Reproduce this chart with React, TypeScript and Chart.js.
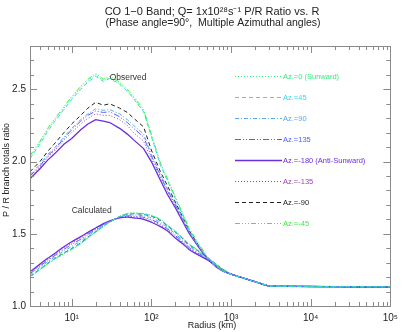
import React, { useEffect, useRef } from 'react';
import { Chart, registerables } from 'chart.js';
Chart.register(...registerables);

// Radius grid (km) up to 1000 km, then the common tail
const radii = [3, 4, 5, 6, 8, 10, 13, 16, 20, 25, 30, 40, 50, 60, 80, 100, 130, 160, 200, 250, 300, 400, 500, 650, 800, 1000];
const tailRadii = [1500, 2000, 3000, 5000, 10000, 20000, 50000, 100000];
const tailRatio = [1.19, 1.168, 1.138, 1.136, 1.135, 1.134, 1.133, 1.133];

const azimuthLabels = ['Az.=0 (Sunward)', 'Az.=45', 'Az.=90', 'Az.=135', 'Az.=-180 (Anti-Sunward)', 'Az.=-135', 'Az.=-90', 'Az.=-45'];

// Observed P/R ratio
const obsAz0 = [2.03, 2.13, 2.22, 2.28, 2.37, 2.44, 2.51, 2.56, 2.60, 2.56, 2.58, 2.54, 2.49, 2.44, 2.35, 2.18, 1.98, 1.87, 1.75, 1.63, 1.53, 1.42, 1.34, 1.28, 1.24, 1.22];
const obsAz45 = [2.02, 2.12, 2.21, 2.27, 2.36, 2.43, 2.50, 2.55, 2.59, 2.555, 2.575, 2.535, 2.485, 2.435, 2.345, 2.175, 1.975, 1.865, 1.745, 1.625, 1.525, 1.415, 1.335, 1.28, 1.24, 1.22];
const obsAz90 = [1.91, 1.98, 2.05, 2.09, 2.17, 2.23, 2.29, 2.33, 2.365, 2.355, 2.36, 2.33, 2.29, 2.25, 2.19, 2.05, 1.91, 1.81, 1.71, 1.60, 1.51, 1.405, 1.33, 1.27, 1.24, 1.22];
const obsAz135 = [1.90, 1.97, 2.04, 2.08, 2.16, 2.22, 2.28, 2.32, 2.35, 2.34, 2.345, 2.31, 2.27, 2.23, 2.17, 2.04, 1.90, 1.80, 1.70, 1.595, 1.505, 1.40, 1.33, 1.27, 1.24, 1.22];
const obsAzM180 = [1.88, 1.95, 2.01, 2.05, 2.12, 2.16, 2.22, 2.26, 2.29, 2.28, 2.27, 2.23, 2.19, 2.15, 2.09, 2.00, 1.87, 1.77, 1.68, 1.58, 1.50, 1.40, 1.33, 1.27, 1.24, 1.22];
const obsAzM135 = [1.89, 1.96, 2.03, 2.07, 2.15, 2.20, 2.26, 2.30, 2.33, 2.32, 2.32, 2.29, 2.25, 2.20, 2.14, 2.02, 1.89, 1.79, 1.69, 1.59, 1.50, 1.40, 1.33, 1.27, 1.24, 1.22];
const obsAzM90 = [1.93, 2.00, 2.07, 2.12, 2.20, 2.26, 2.32, 2.37, 2.41, 2.39, 2.40, 2.37, 2.34, 2.30, 2.24, 2.08, 1.93, 1.83, 1.72, 1.61, 1.52, 1.41, 1.33, 1.27, 1.24, 1.22];
const obsAzM45 = [2.04, 2.14, 2.23, 2.29, 2.38, 2.45, 2.52, 2.57, 2.61, 2.57, 2.59, 2.55, 2.50, 2.45, 2.36, 2.19, 1.99, 1.88, 1.755, 1.635, 1.535, 1.425, 1.345, 1.285, 1.245, 1.22];

// Calculated P/R ratio
const calcAz0 = [1.20, 1.25, 1.29, 1.32, 1.36, 1.39, 1.43, 1.47, 1.51, 1.55, 1.58, 1.62, 1.64, 1.645, 1.64, 1.63, 1.60, 1.56, 1.52, 1.47, 1.43, 1.38, 1.34, 1.29, 1.25, 1.22];
const calcAz45 = [1.204, 1.254, 1.294, 1.324, 1.365, 1.396, 1.435, 1.474, 1.513, 1.552, 1.581, 1.619, 1.637, 1.641, 1.636, 1.625, 1.595, 1.556, 1.515, 1.466, 1.426, 1.377, 1.338, 1.289, 1.25, 1.22];
const calcAz90 = [1.215, 1.266, 1.306, 1.336, 1.38, 1.412, 1.45, 1.486, 1.522, 1.558, 1.584, 1.616, 1.63, 1.631, 1.624, 1.61, 1.58, 1.544, 1.50, 1.454, 1.414, 1.368, 1.332, 1.286, 1.25, 1.22];
const calcAz135 = [1.224, 1.276, 1.316, 1.346, 1.392, 1.426, 1.462, 1.496, 1.53, 1.563, 1.586, 1.614, 1.624, 1.622, 1.614, 1.598, 1.568, 1.534, 1.488, 1.444, 1.404, 1.36, 1.327, 1.283, 1.25, 1.22];
const calcAzM180 = [1.237, 1.29, 1.33, 1.36, 1.41, 1.445, 1.48, 1.51, 1.54, 1.57, 1.59, 1.61, 1.615, 1.61, 1.60, 1.58, 1.55, 1.52, 1.47, 1.43, 1.39, 1.35, 1.32, 1.28, 1.25, 1.22];
const calcAzM135 = [1.23, 1.282, 1.322, 1.352, 1.40, 1.434, 1.47, 1.502, 1.534, 1.566, 1.588, 1.612, 1.62, 1.617, 1.608, 1.59, 1.56, 1.528, 1.48, 1.438, 1.398, 1.356, 1.324, 1.282, 1.25, 1.22];
const calcAzM90 = [1.205, 1.255, 1.295, 1.325, 1.367, 1.398, 1.437, 1.476, 1.514, 1.553, 1.581, 1.618, 1.636, 1.64, 1.634, 1.622, 1.592, 1.554, 1.512, 1.464, 1.424, 1.376, 1.337, 1.289, 1.25, 1.22];
const calcAzM45 = [1.202, 1.252, 1.292, 1.322, 1.362, 1.393, 1.433, 1.472, 1.511, 1.551, 1.58, 1.62, 1.639, 1.643, 1.638, 1.627, 1.597, 1.558, 1.517, 1.468, 1.428, 1.378, 1.339, 1.29, 1.25, 1.22];

const observed = [obsAz0, obsAz45, obsAz90, obsAz135, obsAzM180, obsAzM135, obsAzM90, obsAzM45];
const calculated = [calcAz0, calcAz45, calcAz90, calcAz135, calcAzM180, calcAzM135, calcAzM90, calcAzM45];

const yTickValues = [1.0, 1.5, 2.0, 2.5];

// styles
const colors = ['#2ef07c', '#3cd6f0', '#5aa8f2', '#4f60ff', '#6a2ee0', '#9a44b4', '#222222', '#3cf03c'];
const dashes: number[][] = [[1, 2], [4, 3], [4, 2, 1, 2], [6, 2, 1, 2, 1, 2], [], [1, 2], [4, 3], [5, 2, 1, 2, 1, 2, 1, 2]];

const FONT = '"Liberation Sans", Arial, sans-serif';

const decor = {
  id: 'decor',
  afterDraw(chart: any) {
    const { ctx, chartArea: a, scales } = chart;
    const xs = scales.x;
    const ys = scales.y;
    ctx.save();
    // frame
    ctx.strokeStyle = '#8a8a8a';
    ctx.lineWidth = 1;
    ctx.setLineDash([]);
    ctx.strokeRect(Math.round(a.left) + 0.5, Math.round(a.top) + 0.5, Math.round(a.right - a.left), Math.round(a.bottom - a.top));
    // y ticks (inward, both sides)
    ctx.beginPath();
    for (let i = 0; i <= 18; i++) {
      const v = 1.0 + i * 0.1;
      const py = Math.round(ys.getPixelForValue(v)) + 0.5;
      const len = i % 5 === 0 ? 7 : 4;
      ctx.moveTo(a.left, py); ctx.lineTo(a.left + len, py);
      ctx.moveTo(a.right, py); ctx.lineTo(a.right - len, py);
    }
    // x ticks (inward, top & bottom)
    for (let e = 0; e <= 5; e++) {
      for (let m = 1; m <= 9; m++) {
        const v = m * Math.pow(10, e);
        if (v < 3 || v > 100000) continue;
        const px = Math.round(xs.getPixelForValue(v)) + 0.5;
        const len = m === 1 ? 7 : 4;
        ctx.moveTo(px, a.bottom); ctx.lineTo(px, a.bottom - len);
        ctx.moveTo(px, a.top); ctx.lineTo(px, a.top + len);
      }
    }
    ctx.stroke();

    // titles
    ctx.fillStyle = '#222';
    ctx.textAlign = 'center';
    ctx.textBaseline = 'middle';
    ctx.font = `11px ${FONT}`;
    ctx.fillText('CO 1\u22120 Band; Q= 1x10\u00b2\u2078s\u207b\u00b9 P/R Ratio vs. R', 212, 12);
    ctx.font = `10.5px ${FONT}`;
    ctx.fillText('(Phase angle=90\u00b0,  Multiple Azimuthal angles)', 213, 23);

    // axis titles
    ctx.font = `9px ${FONT}`;
    ctx.fillText('Radius (km)', 212, 326);
    ctx.save();
    ctx.translate(7, 170);
    ctx.rotate(-Math.PI / 2);
    ctx.fillText('P / R branch totals ratio', 0, 0);
    ctx.restore();

    // annotations
    ctx.textAlign = 'left';
    ctx.font = `8.5px ${FONT}`;
    ctx.fillStyle = '#333';
    ctx.fillText('Observed', xs.getPixelForValue(30), ys.getPixelForValue(2.58));
    ctx.fillText('Calculated', xs.getPixelForValue(10), ys.getPixelForValue(1.66));

    // in-chart legend
    ctx.font = `7.5px ${FONT}`;
    azimuthLabels.forEach((lab, i) => {
      const yy = Math.round(76 + i * 20.95) + 0.5;
      ctx.strokeStyle = colors[i];
      ctx.lineWidth = i === 4 ? 1.3 : 1;
      ctx.setLineDash(dashes[i]);
      ctx.beginPath();
      ctx.moveTo(235, yy);
      ctx.lineTo(282, yy);
      ctx.stroke();
      ctx.fillStyle = colors[i];
      ctx.fillText(lab, 283, yy);
    });
    ctx.restore();
  },
};

export default function App() {
  const ref = useRef<HTMLCanvasElement>(null);
  useEffect(() => {
    if (!ref.current) return;
    const allRadii = [...radii, ...tailRadii];
    const datasets: any[] = [];
    observed.forEach((vals, i) => {
      datasets.push({
        label: azimuthLabels[i] + ' obs',
        data: [...vals, ...tailRatio].map((v, k) => ({ x: allRadii[k], y: v })),
        borderColor: colors[i],
        borderDash: dashes[i],
        borderWidth: i === 4 ? 1.3 : 1,
        pointRadius: 0,
        tension: 0,
        fill: false,
      });
    });
    calculated.forEach((vals, i) => {
      datasets.push({
        label: azimuthLabels[i] + ' calc',
        data: [...vals, ...tailRatio].map((v, k) => ({ x: allRadii[k], y: v })),
        borderColor: colors[i],
        borderDash: dashes[i],
        borderWidth: i === 4 ? 1.3 : 1,
        pointRadius: 0,
        tension: 0.3,
        fill: false,
      });
    });
    const chart = new Chart(ref.current, {
      type: 'line',
      data: { datasets },
      plugins: [decor],
      options: {
        animation: false,
        responsive: false,
        devicePixelRatio: 1,
        layout: { padding: { left: 0, right: 9, top: 46, bottom: 0 } },
        plugins: { legend: { display: false }, tooltip: { enabled: false }, title: { display: false } },
        scales: {
          x: {
            type: 'logarithmic',
            min: 3,
            max: 100000,
            grid: { display: false, drawTicks: false },
            border: { display: false },
            afterFit: (s: any) => { s.height = 26; },
            afterBuildTicks: (s: any) => {
              s.ticks = [10, 100, 1000, 10000, 100000].map((v) => ({ value: v }));
            },
            ticks: {
              autoSkip: false,
              maxRotation: 0,
              padding: 6,
              color: '#222',
              font: { family: FONT, size: 10 },
              callback: (v: any) => {
                const sup = ['\u2070', '\u00b9', '\u00b2', '\u00b3', '\u2074', '\u2075'];
                const e = Math.round(Math.log10(Number(v)));
                return '10' + sup[e];
              },
            },
          },
          y: {
            type: 'linear',
            min: 1.0,
            max: 2.8,
            grid: { display: false, drawTicks: false },
            border: { display: false },
            afterFit: (s: any) => { s.width = 30; },
            afterBuildTicks: (s: any) => {
              s.ticks = yTickValues.map((v) => ({ value: v }));
            },
            ticks: {
              padding: 4,
              color: '#222',
              font: { family: FONT, size: 10 },
              callback: (v: any) => Number(v).toFixed(1),
            },
          },
        },
      },
    });
    return () => chart.destroy();
  }, []);
  return (
    <div style={{ position: 'absolute', left: 0, top: 0, width: 404, height: 332, background: '#fff' }}>
      <canvas ref={ref} width={404} height={332} style={{ width: 404, height: 332, display: 'block' }} />
    </div>
  );
}
